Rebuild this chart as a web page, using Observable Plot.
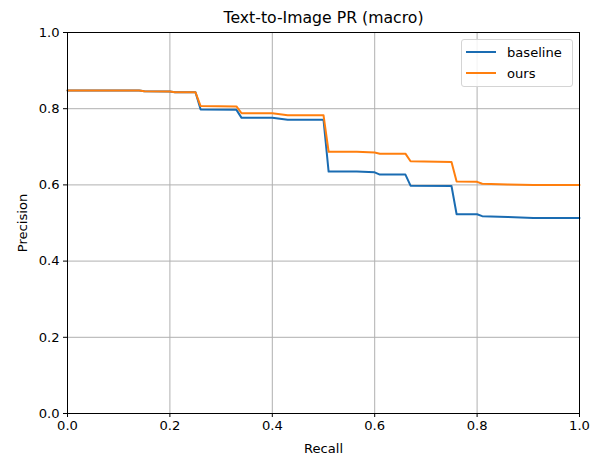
<!DOCTYPE html>
<html>
<head>
<meta charset="utf-8">
<script src="https://cdn.jsdelivr.net/npm/d3@7"></script>
<script src="https://cdn.jsdelivr.net/npm/@observablehq/plot@0.6"></script>
<style>
  body { margin: 0; background: #fff; }
  #wrap { position: relative; width: 604px; height: 456px; font-family: "DejaVu Sans", sans-serif; }
  #legend { position: absolute; left: 461px; top: 39px; width: 110px; height: 46px;
    border: 1px solid #d4d4d4; border-radius: 3px; background: rgba(255,255,255,0.85);
    font-size: 13.1px; color: #000; }
  .row { position: absolute; left: 4px; height: 16px; display: flex; align-items: center; }
  .sw { width: 30px; height: 2px; margin-right: 11px; }
</style>
</head>
<body>
<div id="wrap"></div>
<script>
const title = "Text-to-Image PR (macro)";
const seriesNames = ["baseline", "ours"];
const seriesColors = ["#1a6cb2", "#ff7f0e"];
const recall = [0, 0.14, 0.15, 0.20, 0.21, 0.25, 0.26, 0.33, 0.34, 0.40, 0.43, 0.50, 0.51, 0.565, 0.60, 0.61, 0.66, 0.67, 0.75, 0.76, 0.80, 0.81, 0.86, 0.91, 1.0];
const baselinePrecision = [0.848, 0.848, 0.846, 0.845, 0.843, 0.843, 0.798, 0.797, 0.776, 0.776, 0.771, 0.771, 0.635, 0.635, 0.633, 0.627, 0.627, 0.598, 0.597, 0.523, 0.523, 0.518, 0.516, 0.513, 0.513];
const oursPrecision = [0.848, 0.848, 0.846, 0.845, 0.843, 0.843, 0.807, 0.806, 0.788, 0.788, 0.783, 0.783, 0.687, 0.687, 0.685, 0.682, 0.682, 0.662, 0.660, 0.609, 0.608, 0.603, 0.601, 0.600, 0.600];
const xTicks = [0, 0.2, 0.4, 0.6, 0.8, 1.0];
const yTicks = [0, 0.2, 0.4, 0.6, 0.8, 1.0];

const rows = [];
recall.forEach((r, i) => rows.push({series: seriesNames[0], recall: r, precision: baselinePrecision[i]}));
recall.forEach((r, i) => rows.push({series: seriesNames[1], recall: r, precision: oursPrecision[i]}));

const chart = Plot.plot({
  width: 604,
  height: 456,
  marginLeft: 67,
  marginRight: 25,
  marginTop: 32,
  marginBottom: 43,
  style: {fontFamily: "DejaVu Sans, sans-serif", fontSize: "13.1px", color: "#000", background: "#fff", overflow: "visible"},
  x: {domain: [0, 1]},
  y: {domain: [0, 1]},
  color: {domain: seriesNames, range: seriesColors},
  marks: [
    Plot.gridX(xTicks, {stroke: "#b0b0b0", strokeOpacity: 1, strokeWidth: 1}),
    Plot.gridY(yTicks, {stroke: "#b0b0b0", strokeOpacity: 1, strokeWidth: 1}),
    Plot.line(rows, {x: "recall", y: "precision", z: "series", stroke: "series", strokeWidth: 2, curve: "linear"}),
    Plot.frame({stroke: "#000", strokeWidth: 1}),
    Plot.axisX(xTicks, {tickFormat: d => d.toFixed(1), tickSize: 4, tickPadding: 3, label: "Recall", labelAnchor: "center", labelOffset: 39, labelArrow: "none", fontSize: 13.1}),
    Plot.axisY(yTicks, {tickFormat: d => d.toFixed(1), tickSize: 4, tickPadding: 4, label: "Precision", labelAnchor: "center", labelOffset: 50, labelArrow: "none", fontSize: 13.1}),
    Plot.text([title], {frameAnchor: "top", lineAnchor: "middle", dy: -15, fontSize: 15.7, fill: "#000"})
  ]
});
const wrap = document.getElementById("wrap");
wrap.appendChild(chart);

const legend = document.createElement("div");
legend.id = "legend";
seriesNames.forEach((name, i) => {
  const row = document.createElement("div");
  row.className = "row";
  row.style.top = (4 + i * 21) + "px";
  const sw = document.createElement("div");
  sw.className = "sw";
  sw.style.background = seriesColors[i];
  const t = document.createElement("span");
  t.textContent = name;
  row.appendChild(sw);
  row.appendChild(t);
  legend.appendChild(row);
});
wrap.appendChild(legend);
</script>
</body>
</html>
